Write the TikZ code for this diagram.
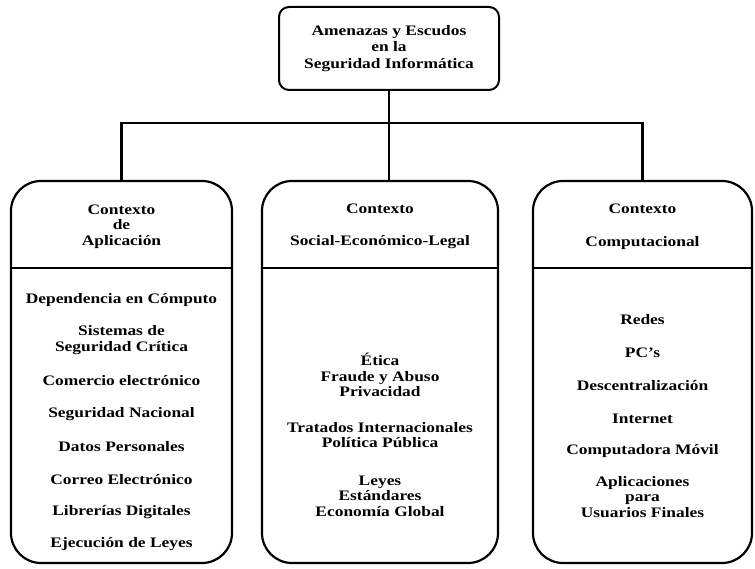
\documentclass[tikz,border=0pt]{standalone}
\usepackage{fontspec}
\setmainfont{Liberation Serif}[FakeStretch=1.2]
\usetikzlibrary{positioning}

\begin{document}
\begin{tikzpicture}[x=1pt,y=-1pt,font=\fontsize{14.5}{15.5}\selectfont\bfseries,
  ctx/.style={draw,line width=2.2pt,rounded corners=30pt,minimum width=#1,minimum height=382pt,inner sep=0pt},
  item/.style={align=center,inner sep=1pt},
  link/.style={line width=2.6pt}]
\useasboundingbox (0,0) rectangle (755,569);
% main topic
\node[draw,line width=2pt,rounded corners=10pt,minimum width=220pt,minimum height=83pt,align=center,
  font=\fontsize{14.5}{16.5}\selectfont\bfseries] (top) at (389,48.5) {Amenazas y Escudos\\en la\\Seguridad Informática};
% the three contexts
\node[ctx=221pt] (apl) at (121.5,372) {};
\node[ctx=236pt] (soc) at (380,372) {};
\node[ctx=219pt] (cmp) at (642.5,372) {};
\coordinate (divy) at (0,268);
\draw[line width=2.2pt] (apl.west |- divy) -- (apl.east |- divy);
\draw[line width=2.2pt] (soc.west |- divy) -- (soc.east |- divy);
\draw[line width=2.2pt] (cmp.west |- divy) -- (cmp.east |- divy);
\node[item] (aplT) at (121.5,226.5) {Contexto\\de\\Aplicación};
\node[item] (socT) at (380,226.5) {Contexto\\[17pt]Social-Económico-Legal};
\node[item] (cmpT) at (642.5,226.5) {Contexto\\[17pt]Computacional};
% application context
\node[item] (dep) at (121.5,300) {Dependencia en Cómputo};
\node[item] (sis) at (121.5,340) {Sistemas de\\Seguridad Crítica};
\node[item] (com) at (121.5,381) {Comercio electrónico};
\node[item] (nac) at (121.5,414) {Seguridad Nacional};
\node[item] (dat) at (121.5,447) {Datos Personales};
\node[item] (cor) at (121.5,480) {Correo Electrónico};
\node[item] (lib) at (121.5,512) {Librerías Digitales};
\node[item] (eje) at (121.5,544) {Ejecución de Leyes};
% social-economic-legal context
\node[item] (eti) at (380,375) {Ética\\Fraude y Abuso\\Privacidad};
\node[item] (tra) at (380,435) {Tratados Internacionales\\Política Pública};
\node[item] (ley) at (380,496) {Leyes\\Estándares\\Economía Global};
% computational context
\node[item] (red) at (642.5,320) {Redes};
\node[item] (pcs) at (642.5,353) {PC's};
\node[item] (des) at (642.5,386) {Descentralización};
\node[item] (int) at (642.5,419) {Internet};
\node[item] (mov) at (642.5,451) {Computadora Móvil};
\node[item] (apu) at (642.5,497) {Aplicaciones\\para\\Usuarios Finales};
% connectors
\coordinate (bus) at (390,123);
\draw[link] (top.south) -- (top.south |- soc.north);
\draw[link] (apl.north) |- (bus) -| (cmp.north);
\end{tikzpicture}
\end{document}
